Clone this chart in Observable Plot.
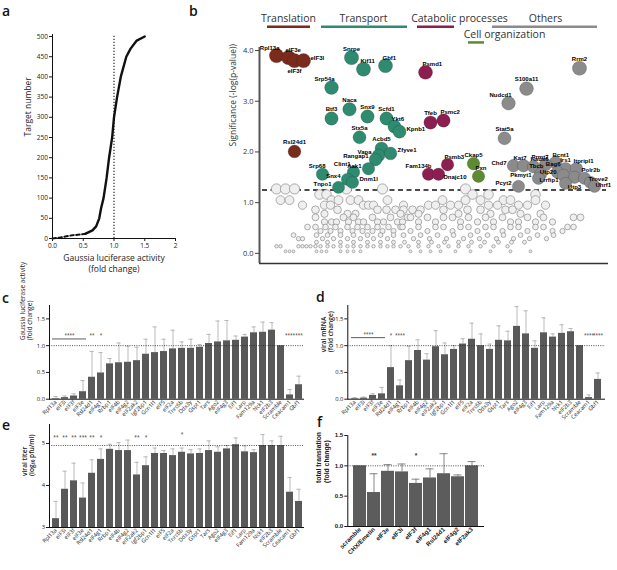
<!DOCTYPE html>
<html><head><meta charset="utf-8">
<script src="https://cdn.jsdelivr.net/npm/d3@7"></script>
<script src="https://cdn.jsdelivr.net/npm/@observablehq/plot@0.6"></script>
<style>
body{margin:0;background:#fff}
#fig{position:relative;width:617px;height:570px;overflow:hidden;font-family:"Open Sans",sans-serif}
.plet{position:absolute;font:600 14px "Open Sans",sans-serif;line-height:16px;color:#111}
</style></head>
<body><div id="fig"></div>
<script>
// ---------- Panel a data ----------
const aFold = [0, 0.11, 0.21, 0.32, 0.46, 0.54, 0.65, 0.71, 0.76, 0.79, 0.83, 0.88, 0.92, 0.97, 1.0, 1.05, 1.11, 1.2, 1.27, 1.37, 1.5];
const aRank = [0, 2, 5, 8, 10, 12, 20, 30, 50, 75, 100, 150, 200, 250, 300, 350, 400, 450, 470, 490, 500];
const aYTicks = [0,50,100,150,200,250,300,350,400,450,500];
const aXTicks = [0,0.5,1,1.5,2];

// ---------- Panel b data ----------
const bGenes = ["Rpl13a","eIF3e","eIF3f","eIF3l","Rsl24d1",
 "Snrpe","Kif11","Gbf1","Srp54a","Naca","Btf3","Snx9","Scfd1","Ykt6","Kpnb1","Stx5a","Acbd5","Zfyve1","Vapa","Rangap1","Aak1","Clint1","Srp68","Snx4","Dnm1l","Tnpo1",
 "Psmd1","Tfeb","Psmc2","Psmb3","Fam134b","Dnajc10",
 "Ckap5","Pxn",
 "Rrm2","S100a11","Nudcd1","Stat5a","Chd7","Kat7","Haus6","Prmt7","Bcnt1","Irs1","Itpripl1","Tbcb","Bag6","Pkmyt1","Utp20","Polr2b","Uhrf1","Trove2","Pcyt2","Lrrfip1","Utp3"];
const bGroup = ["T","T","T","T","T",
 "P","P","P","P","P","P","P","P","P","P","P","P","P","P","P","P","P","P","P","P","P",
 "C","C","C","C","C","C",
 "G","G",
 "X","X","X","X","X","X","X","X","X","X","X","X","X","X","X","X","X","X","X","X","X"];
const bX = [276,288,294,303,294,
 351,363,385,331,349,331,367,386,394,399,359,381,390,378,375,368,353,322,347,352,338,
 425,430,443,447,428,438,
 473,478,
 579,526,508,504,513,523,533,545,555,565,576,540,557,538,563,584,590,594,518,565,574];
const bY = [3.90,3.86,3.80,3.80,2.01,
 3.86,3.63,3.70,3.27,2.84,2.66,2.70,2.66,2.50,2.40,2.29,2.07,1.97,1.93,1.85,1.67,1.60,1.56,1.46,1.40,1.30,
 3.57,2.58,2.62,1.75,1.56,1.56,
 1.77,1.52,
 3.65,3.25,2.96,2.27,1.73,1.73,1.71,1.75,1.79,1.67,1.67,1.56,1.60,1.48,1.54,1.48,1.40,1.32,1.32,1.38,1.50];
const bPos = ["tl","tr","b","r","t",
 "t","tr","tr","tl","t","t","t","t","tr","r","t","t","r","l","l","l","tl2","tl","l","r","l",
 "tr","t","tr","tr","tl","rb",
 "t","tr",
 "t","t","tl","t","l","tl","tr","tl","tr","t","tr","tl","tl","l","l","tr","rb","tx","l","l","b"];
const bOpenY = [1.27,1.16,1.05,0.95,0.86,0.78,0.71,0.62,0.52,0.44,0.36,0.29,0.22,0.14,0.04];
const bOpenX = [
 [276,285,294,346,382,465],
 [319,326,472,488,535],
 [280,289,331,338,350,358,387,442,465,480,503,510,535],
 [302,324,330,363,368,373,403,428,435,450,458,488,497,518,527,545],
 [315,337,377,386,395,403,412,420,443,467,480,505,512],
 [324,347,355,400,418,458,490,520,540],
 [315,343,353,372,390,407,410,427,443,452,468,485,502,527,543,573,580],
 [324,331,336,348,358,363,377,383,397,402,418,435,460,477,493,510,518,535,552],
 [307,315,325,335,347,357,367,377,388,400,402,418,435,443,460,468,485,493,510,518,535,543,567,573],
 [320,330,340,352,362,372,382,393,410,427,452,477,502,527,552,562],
 [293,316,327,340,353,367,380,393,403,420,437,453,470,487,503,520,537,553],
 [298,302,322,333,347,360,373,387,413,429,446,463,479,496,513,529,546],
 [316,327,340,353,367,380,393,404,418,431,444,458,471,484,498,511,524],
 [276,280,298,302,306,310,315,320,327,333,340,347,353,360,367,373,380,387,393,400,408,418,428,438,448,458,468,480,493,507],
 [285,289,293,316,321,326,340,347,353,360,410,420,430,440,455,470,490,510,530]
];
const bThreshold = 1.25;
const bHeads = ["Translation","Transport","Catabolic processes","Others","Cell organization"];
const bHeadX = [288,363,459,545,504];
const bHeadY = [4.63,4.63,4.63,4.63,4.31];
const bLineX1 = [267,321,417,492,468];
const bLineX2 = [310,407,454,597,484];
const bLineY = [4.47,4.47,4.47,4.47,4.16];
const bHeadGroup = ["T","P","C","X","G"];
const bColors = {T:"#7b2b1c", P:"#2e8b70", C:"#8c1f50", G:"#5d8b31", X:"#8b8b8b"};

// ---------- Panels c, d, e data ----------
const cats = ["Rpl13a","eIF3i","eIF3f","eIF3e","Rsl24d1","eIF4g1","Rrbp1","eIF4b","eIF4g2","eIF2ak2","Igf2bp1","Gcn1l1","eIF5","eIF2a","Tnrc6b","Ddx3y","Gspt1","Tars","Ago2","eIF4g3","Eif1","Larp","Fam129a","Nck1","eIF2b3","Scramble","Ceacam1","Gbf1"];
const cVal = [0.01,0.03,0.06,0.14,0.41,0.49,0.66,0.68,0.69,0.72,0.84,0.87,0.89,0.94,0.95,0.95,0.97,1.04,1.07,1.09,1.10,1.16,1.24,1.25,1.29,1.00,0.08,0.27];
const cErr = [0.05,0.06,0.10,0.35,0.89,0.87,0.76,1.05,0.99,0.97,1.12,1.35,1.12,1.29,1.07,1.12,1.02,1.21,1.46,1.47,1.18,1.21,1.35,1.44,1.43,null,0.18,0.43];
const cSigCats = ["Rsl24d1","eIF4g1","Ceacam1","Gbf1"];
const cSigText = ["**","*","****","***"];
const dVal = [0.01,0.02,0.07,0.10,0.59,0.25,0.72,0.91,0.73,0.98,0.83,0.93,1.03,1.12,1.00,0.93,1.10,1.09,1.36,1.22,0.95,1.24,1.16,1.23,1.26,1.00,0.03,0.37];
const dErr = [0.03,0.04,0.10,0.22,1.00,0.36,0.99,1.11,0.85,1.28,1.05,1.00,1.13,1.42,1.22,1.03,1.37,1.27,1.73,1.65,1.09,1.52,1.22,1.39,1.32,null,0.08,0.49];
const dSigCats = ["Rsl24d1","eIF4g1","Ceacam1","Gbf1"];
const dSigText = ["*","****","****","****"];
const eVal = [3.21,3.91,4.11,3.70,4.29,4.62,4.86,4.83,4.83,4.25,4.47,4.76,4.76,4.71,4.79,4.75,4.76,4.83,4.79,4.87,4.97,4.80,4.78,4.95,4.95,4.95,3.84,3.62];
const eErr = [3.62,4.34,4.53,4.06,4.61,4.87,4.98,5.02,5.08,4.55,4.68,4.89,4.83,4.87,4.89,4.85,4.87,5.06,4.92,4.95,5.13,4.94,4.85,5.21,5.06,5.17,4.19,3.91];
const eSigCats = ["Rpl13a","eIF3i","eIF3f","eIF3e","Rsl24d1","eIF4g1","eIF2ak2","Igf2bp1","Tnrc6b"];
const eSigText = ["**","**","**","***","**","*","**","*","*"];
const eSigY = [5.15,5.15,5.15,5.15,5.15,5.15,5.15,5.15,5.22];

// ---------- Panel f data ----------
const fCats = ["scramble","CHX/Emetin","eIF3e","eIF3i","eIF3f","eIF4g1","Rsl24d1","eIF4g2","eIF2ak3"];
const fVal = [1.00,0.56,0.91,0.90,0.71,0.80,0.87,0.82,1.00];
const fErr = [null,0.87,1.02,1.03,0.78,0.95,1.20,0.85,1.07];
const fSigCats = ["CHX/Emetin","eIF3f"];
const fSigText = ["**","*"];

// ---------- helpers ----------
const fig = document.getElementById("fig");
const FONT = '"Open Sans", "Liberation Sans", sans-serif';
const ARIAL = '"Liberation Sans", Arial, sans-serif';
function put(node, left, top){ node.style.position="absolute"; node.style.left=left+"px"; node.style.top=top+"px"; node.style.maxWidth="none"; fig.appendChild(node); }
function baseStyle(size, weight, family){ return {fontFamily: family||FONT, fontSize: size+"px", fontWeight: weight||400, background:"transparent", overflow:"visible", color:"#1a1a1a"}; }
function letter(t, left, top){ const d=document.createElement("div"); d.className="plet"; d.textContent=t; d.style.left=left+"px"; d.style.top=top+"px"; fig.appendChild(d); }

// ---------- Panel a ----------
const aData = aFold.map((f,i)=>({f, n:aRank[i]}));
put(Plot.plot({
  width:200, height:280, marginLeft:52, marginRight:25, marginTop:34, marginBottom:42,
  style: baseStyle(6.5),
  x:{domain:[0,2]}, y:{domain:[0,505]},
  marks:[
    Plot.ruleX([1],{y1:0,y2:505,stroke:"#111",strokeDasharray:"1.3,1.7",strokeWidth:1.1}),
    Plot.line(aData.filter(d=>d.f<=0.54),{x:"f",y:"n",stroke:"#111",strokeWidth:2,strokeDasharray:"3.5,2.5"}),
    Plot.line(aData.filter(d=>d.f>=0.54),{x:"f",y:"n",stroke:"#111",strokeWidth:2.4}),
    Plot.ruleX([0],{y1:0,y2:505,stroke:"#111"}),
    Plot.ruleY([0],{x1:0,x2:2,stroke:"#111"}),
    Plot.axisY({ticks:aYTicks, tickSize:3, tickPadding:1.5, label:null}),
    Plot.axisX({ticks:aXTicks, tickFormat:d=>d===2?"2":d.toFixed(1), tickSize:3, tickPadding:1.5, label:null}),
    Plot.text(["Target number"],{frameAnchor:"left", dx:-24, rotate:-90, fontSize:8.5}),
    Plot.text(["Gaussia luciferase activity\n(fold change)"],{frameAnchor:"bottom", dy:15, lineAnchor:"top", fontSize:8.5, lineHeight:1.25})
  ]
}), 0, 0);

// ---------- Panel b ----------
const bDots = bGenes.map((g,i)=>({g, grp:bGroup[i], x:bX[i], y:bY[i], pos:bPos[i]}));
const bOpen = bOpenY.flatMap((y,i)=>bOpenX[i].map(x=>({x,y})));
const bHead = bHeads.map((t,i)=>({t, x:bHeadX[i], y:bHeadY[i], x1:bLineX1[i], x2:bLineX2[i], ly:bLineY[i], col:bColors[bHeadGroup[i]]}));
const posSpec = {t:{a:"middle",dx:0,dy:-9}, tl:{a:"end",dx:3,dy:-8}, tl2:{a:"end",dx:-3,dy:-8}, tr:{a:"start",dx:-3,dy:-8}, tx:{a:"start",dx:-6,dy:-7}, r:{a:"start",dx:7,dy:-3}, l:{a:"end",dx:-7,dy:-3}, b:{a:"middle",dx:0,dy:10}, rb:{a:"start",dx:5,dy:3}};
put(Plot.plot({
  width:417, height:280, marginLeft:59, marginRight:9, marginTop:47, marginBottom:17,
  style: baseStyle(7.5),
  x:{domain:[259,608], axis:null},
  y:{domain:[-0.2,4.06]},
  r:{type:"identity"}, color:{type:"identity"},
  marks:[
    Plot.ruleY([bThreshold],{x1:262,x2:606,stroke:"#111",strokeWidth:1.3,strokeDasharray:"5,3.5"}),
    Plot.dot(bOpen,{x:"x",y:"y",r:d=>1.3+3*d.y,fill:"#efefef",stroke:"#8c8c8c",strokeWidth:0.7}),
    Plot.dot(bDots,{x:"x",y:"y",r:d=>5.6+0.4*d.y,fill:d=>bColors[d.grp],stroke:"#222",strokeOpacity:0.35,strokeWidth:0.6}),
    ...Object.entries(posSpec).map(([k,s])=>Plot.text(bDots.filter(d=>d.pos===k),{x:"x",y:"y",text:"g",textAnchor:s.a,dx:s.dx,dy:s.dy,fontSize:6,fontWeight:"bold",fontFamily:ARIAL,fill:"#000"})),
    Plot.ruleX([259],{y1:-0.2,y2:4.06,stroke:"#555",strokeWidth:2}),
    Plot.ruleY([-0.2],{x1:259,x2:608,stroke:"#333",strokeWidth:1.5}),
    Plot.axisY({ticks:[0,1,2,3,4], tickFormat:d=>d.toFixed(1), tickSize:4, tickPadding:2, label:null, stroke:"#444", fill:"#333"}),
    Plot.text(["Significance (-log(p-value))"],{frameAnchor:"left", dx:-26, dy:-9, rotate:-90, fontSize:8.5, fill:"#333"}),
    Plot.text(bHead,{x:"x",y:"y",text:"t",fontSize:10.5,fill:"#333"}),
    Plot.ruleY(bHead,{y:"ly",x1:"x1",x2:"x2",stroke:"col",strokeWidth:2.5})
  ]
}), 200, 0);

// ---------- bar panels ----------
function bars(o){
  const data = o.cats.map((c,i)=>({c, v:o.vals[i], e:o.errs[i]}));
  const withErr = data.filter(d=>d.e!=null);
  const sig = o.sigCats.map((c,i)=>({c, t:o.sigText[i], y:o.sigY ? o.sigY[i] : o.sigLevel}));
  const marks = [
    Plot.ruleX(withErr,{x:"c",y1:"v",y2:"e",stroke:o.errColor,strokeWidth:0.8}),
    Plot.tickY(withErr,{x:"c",y:"e",stroke:o.errColor,strokeWidth:0.8,insetLeft:o.capInset,insetRight:o.capInset}),
    Plot.barY(data,{x:"c",y1:()=>o.base,y2:"v",fill:o.barColor}),
    Plot.ruleY([o.ref],{stroke:"#222",strokeWidth:0.8,strokeDasharray:"1,1.3"}),
    Plot.text(sig,{x:"c",y:"y",text:"t",fontSize:o.sigSize,fill:"#333"}),
    Plot.frame({anchor:"left", stroke:"#111"}),
    Plot.ruleY([o.base],{stroke:"#111"}),
    Plot.axisX({tickRotate:-45, tickSize:0, tickPadding:2, label:null, fontSize:o.xfs}),
    Plot.axisY({ticks:o.yTicks, tickFormat:o.yFmt, tickSize:3, tickPadding:1.5, label:null}),
    Plot.text([o.title],{frameAnchor:"left", dx:o.tdx, dy:o.tdy, rotate:-90, fontSize:o.tfs, fontWeight:o.tfw, lineHeight:1.1})
  ];
  if (o.bracket) {
    marks.push(Plot.ruleY([o.bracket],{y:"y",x1:"c1",x2:"c2",stroke:"#333",strokeWidth:0.8}));
    marks.push(Plot.text([o.bracket],{x:"cm",y:"ty",text:"t",dx:-4.5,fontSize:o.sigSize,fill:"#333"}));
  }
  return Plot.plot({
    width:o.w, height:o.h, marginLeft:o.ml, marginRight:o.mr, marginTop:o.mt, marginBottom:o.mb,
    style: baseStyle(o.fs, o.fw, o.family),
    x:{domain:o.cats, paddingInner:o.pi, paddingOuter:o.po, align:0.5},
    y:{domain:o.yDomain},
    marks
  });
}
const common = {cats, errColor:"#a9a9a9", barColor:"#595959", capInset:1.4, sigSize:4.6, xfs:5.6, fs:5.8, fw:400};

put(bars({...common, vals:cVal, errs:cErr, w:310, h:145, ml:49, mr:6, mt:20, mb:31.3, pi:0.27, po:0.135,
  yDomain:[0,1.75], yTicks:[0,0.5,1,1.5], yFmt:d=>d.toFixed(1), base:0, ref:1,
  sigCats:cSigCats, sigText:cSigText, sigLevel:1.19,
  bracket:{y:1.125, c1:"Rpl13a", c2:"eIF3e", cm:"eIF3f", ty:1.19, t:"****"},
  title:"Gaussia luciferase activity\n(fold change)", tdx:-23.5, tdy:-12, tfs:6.6, tfw:400}), 0, 285);

put(bars({...common, vals:dVal, errs:dErr, w:309, h:145, ml:39.3, mr:12, mt:20, mb:31.3, pi:0.27, po:0.335,
  yDomain:[0,1.75], yTicks:[0,0.5,1,1.5], yFmt:d=>d.toFixed(1), base:0, ref:1,
  sigCats:dSigCats, sigText:dSigText, sigLevel:1.19,
  bracket:{y:1.15, c1:"Rpl13a", c2:"eIF3e", cm:"eIF3f", ty:1.21, t:"****"},
  title:"viral mRNA\n(fold change)", tdx:-20.6, tdy:0, tfs:6.6, tfw:600}), 308, 285);

put(bars({...common, vals:eVal, errs:eErr, w:310, h:150, ml:49, mr:6, mt:4, mb:43, pi:0.27, po:0.135, sigSize:4.8,
  yDomain:[3,5.45], yTicks:[3,4,5], yFmt:d=>String(d), base:3, ref:4.95,
  sigCats:eSigCats, sigText:eSigText, sigY:eSigY,
  title:"viral titer\n(log\u2081\u2080 pfu/ml)", tdx:-21.5, tdy:0, tfs:6.6, tfw:600}), 0, 420);

put(bars({cats:fCats, vals:fVal, errs:fErr, errColor:"#6a6a6a", barColor:"#5c5c5c", capInset:2.5, sigSize:6.5, xfs:6.2, fs:6.2, fw:700, family:ARIAL,
  w:200, h:150, ml:39.3, mr:24, mt:15, mb:44, pi:0.1, po:0.17,
  yDomain:[0,1.5], yTicks:[0,0.5,1,1.5], yFmt:d=>d.toFixed(1), base:0, ref:1,
  sigCats:fSigCats, sigText:fSigText, sigLevel:1.17,
  title:"total translation\n(fold change)", tdx:-25, tdy:2, tfs:6.8, tfw:700}), 308, 420);

// ---------- panel letters ----------
letter("a", 2, 3); letter("b", 189, 3); letter("c", 2, 290); letter("d", 316, 289); letter("e", 2, 417); letter("f", 317, 414);
</script>
</body></html>
